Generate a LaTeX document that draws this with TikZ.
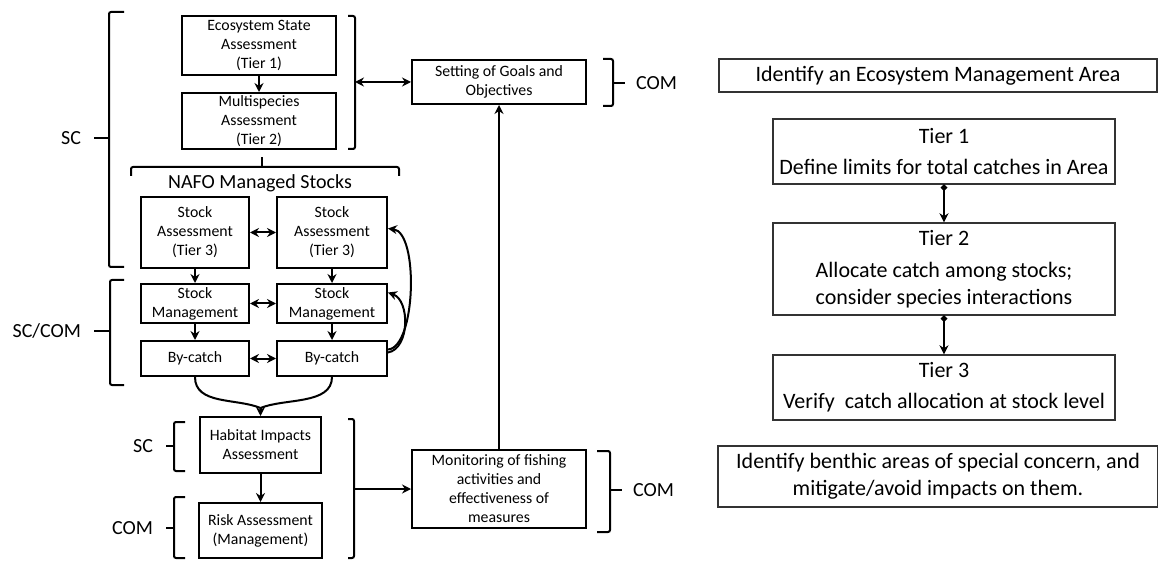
\documentclass[tikz,border=0pt]{standalone}
\usepackage{fontspec}
\setmainfont{Carlito}
\usetikzlibrary{arrows.meta}

\begin{document}
\begin{tikzpicture}[x=1pt, y=1pt, >={Stealth[length=9pt, width=9pt]},
    box/.style={draw, line width=2pt, align=center, inner sep=0pt, font=\fontsize{15.8}{19}\selectfont},
    aimbox/.style={draw=black!80, line width=1.4pt, align=center, inner sep=0pt, font=\fontsize{22}{27}\selectfont},
    brace/.style={line width=2pt, rounded corners=2pt},
    link/.style={line width=2pt},
    lbl/.style={font=\fontsize{20}{24}\selectfont, inner sep=0pt}]
  \useasboundingbox (0,0) rectangle (1158,560);
  % assessment chain
  \node [box, minimum width=154pt, minimum height=59pt] (eco) at (259,514.5) {Ecosystem State\\Assessment\\(Tier 1)};
  \node [box, minimum width=154pt, minimum height=56pt] (multi) at (259,439) {Multispecies\\Assessment\\(Tier 2)};
  \node [lbl] (nafo) at (260,377) {NAFO Managed Stocks};
  \foreach \x/\w [count=\i] in {195/108pt, 332/110pt} {
    \node [box, minimum width=\w, minimum height=71pt] (sa-\i) at (\x,327.5) {Stock\\Assessment\\(Tier 3)};
    \node [box, minimum width=\w, minimum height=39pt] (sm-\i) at (\x,256.5) {Stock\\Management};
    \node [box, minimum width=\w, minimum height=35pt] (bc-\i) at (\x,201.5) {By-catch};
  }
  \node [box, minimum width=121pt, minimum height=56pt] (habitat) at (260.5,115) {Habitat Impacts\\Assessment};
  \node [box, minimum width=123pt, minimum height=55pt] (risk) at (260.5,29.5) {Risk Assessment\\(Management)};
  \node [box, minimum width=174pt, minimum height=44pt] (goals) at (499,478) {Setting of Goals and\\Objectives};
  \node [box, minimum width=174pt, minimum height=78pt] (monitor) at (499,71) {Monitoring of fishing\\activities and\\effectiveness of\\measures};
  % arrows inside the chain
  \draw [link, ->] (eco) -- (multi);
  \foreach \i in {1,2} {
    \draw [link, ->] (sa-\i) -- (sm-\i);
    \draw [link, ->] (sm-\i) -- (bc-\i);
  }
  \foreach \n in {sa, sm, bc}
    \draw [link, <->] (\n-1) -- (\n-2);
  \draw [link, ->] ([yshift=9pt]bc-2.east) .. controls +(28,2) and +(31,-4) .. ([yshift=4pt]sa-2.east);
  \draw [link, ->] ([yshift=6pt]bc-2.east) .. controls +(22,4) and +(22,-8) .. ([yshift=11pt]sm-2.east);
  \coordinate (join) at (260.5,152);
  \foreach \i/\dx in {1/-24, 2/24}
    \draw [link] (bc-\i.south) .. controls +(0,-28) and +(\dx,10) .. (join);
  \draw [link, ->] (join) -- (habitat);
  \draw [link, ->] (habitat) -- (risk);
  \draw [link, ->] (monitor) -- (goals);
  % brackets, tip to the left
  \foreach \x/\ya/\yb/\ym/\s/\t/\l [count=\i] in {109/548/293/422/15/15/SC, 110/280/175/229/14/16/{SC/COM}, 174/138/89/114/11/8/SC, 174/63/2/32/11/8/COM} {
    \draw [brace] (\x+\s,\ya) -| (\x,\yb) -- ++(\s,0);
    \draw [brace] (\x,\ym) -- (\x-\t,\ym) node [lbl, left=12pt] (side-\i) {\l};
  }
  % brackets, tip to the right
  \foreach \x/\ya/\yb/\ym/\s [count=\i] in {355/544/411/478/7, 354/141/2/71/6, 613/501/454/477/10, 610/109/28/70/13}
    \draw [brace] (\x-\s,\ya) -| (\x,\yb) -- ++(-\s,0) (\x,\ym) coordinate (grp-\i);
  \draw [link, <->] (grp-1) -- (goals.west);
  \draw [link, ->] (grp-2) -- (monitor.west);
  \foreach \i in {3,4}
    \draw [brace] (grp-\i) -- ++(12,0) node [lbl, right=10pt] (com-\i) {COM};
  % NAFO bracket
  \draw [brace] (131,384) |- (399,393) -- (399,384);
  \draw [brace] (262,393) -- (262,403);
  % tiers on the right
  \node [aimbox, minimum width=438pt, minimum height=33pt] (area) at (938,484.5) {Identify an Ecosystem Management Area};
  \node [aimbox, minimum width=342pt, minimum height=65pt] (tier-1) at (944,408.5) {Tier 1\\[4pt]Define limits for total catches in Area};
  \node [aimbox, minimum width=342pt, minimum height=92pt] (tier-2) at (944,291) {Tier 2\\[5pt]Allocate catch among stocks;\\consider species interactions};
  \node [aimbox, minimum width=342pt, minimum height=65pt] (tier-3) at (944,172.5) {Tier 3\\[4pt]Verify\ \ catch allocation at stock level};
  \node [aimbox, minimum width=440pt, minimum height=61pt] (benthic) at (938,83.5) {Identify benthic areas of special concern, and\\mitigate/avoid impacts on them.};
  \foreach \i/\j in {1/2, 2/3}
    \draw [line width=2.4pt, {Circle[length=6pt]}->] (tier-\i) -- (tier-\j);
\end{tikzpicture}
\end{document}
